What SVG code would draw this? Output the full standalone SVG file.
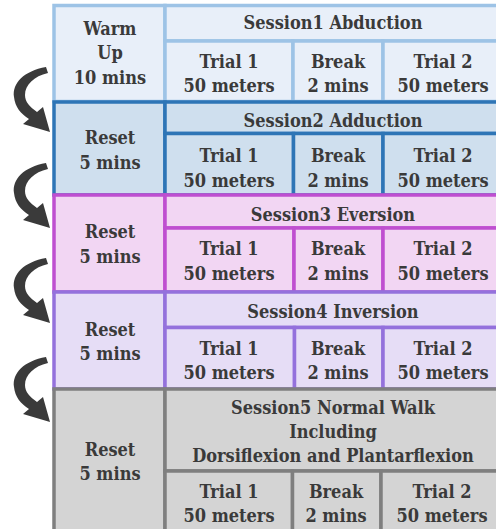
<svg xmlns="http://www.w3.org/2000/svg" width="496" height="529" viewBox="0 0 496 529">
<defs>
<style>
text{font-family:'DejaVu Serif',serif;font-stretch:condensed;font-weight:700;font-size:18px;fill:#3a3a3a;text-anchor:middle}
.c{stroke-width:3.5}
.r1{fill:#e8eff9;stroke:#9dc3e6}
.r2{fill:#cfdfee;stroke:#2e75b6}
.r3{fill:#f2d6f3;stroke:#bf4fd0}
.r4{fill:#e6ddf6;stroke:#9471dc}
.r5{fill:#d4d4d4;stroke:#7f7f7f}
.arr{fill:#3a3a3a}
</style>
<path id="arrow" d="M 46 0 C 24 4 12 16 14 30 C 15 40 21 47 29 52 L 23 57 L 50 65 L 43 40 L 37 45 C 30 40 25 35 25 28 C 25 18 34 9 48 6 Z"/>
</defs>
<rect width="496" height="529" fill="#ffffff"/>
<g id="row1">
<g id="warmup"><rect class="c r1" x="54" y="5.5" width="111" height="96"/><text x="110" y="35">Warm</text><text x="110" y="59">Up</text><text x="110" y="84">10 mins</text></g>
<g id="session1"><rect class="c r1" x="165" y="5.5" width="337" height="35.5"/><text x="333" y="29">Session1 Abduction</text></g>
<g id="s1-trial1"><rect class="c r1" x="165" y="41" width="128" height="60.5"/><text x="229" y="68">Trial 1</text><text x="229" y="92">50 meters</text></g>
<g id="s1-break"><rect class="c r1" x="293" y="41" width="90" height="60.5"/><text x="338" y="68">Break</text><text x="338" y="92">2 mins</text></g>
<g id="s1-trial2"><rect class="c r1" x="383" y="41" width="119" height="60.5"/><text x="443" y="68">Trial 2</text><text x="443" y="92">50 meters</text></g>
</g>

<g id="row2">
<g id="reset2"><rect class="c r2" x="54" y="102" width="111" height="93"/><text x="110" y="144">Reset</text><text x="110" y="169">5 mins</text></g>
<g id="session2"><rect class="c r2" x="165" y="102" width="337" height="31.5"/><text x="333" y="127">Session2 Adduction</text></g>
<g id="s2-trial1"><rect class="c r2" x="165" y="133.5" width="128.5" height="61.5"/><text x="229" y="162">Trial 1</text><text x="229" y="187">50 meters</text></g>
<g id="s2-break"><rect class="c r2" x="293.5" y="133.5" width="89.5" height="61.5"/><text x="338" y="162">Break</text><text x="338" y="187">2 mins</text></g>
<g id="s2-trial2"><rect class="c r2" x="383" y="133.5" width="119" height="61.5"/><text x="443" y="162">Trial 2</text><text x="443" y="187">50 meters</text></g>
</g>

<g id="row3">
<g id="reset3"><rect class="c r3" x="54" y="195" width="111" height="97"/><text x="110" y="238">Reset</text><text x="110" y="263">5 mins</text></g>
<g id="session3"><rect class="c r3" x="165" y="195" width="337" height="33"/><text x="333" y="221">Session3 Eversion</text></g>
<g id="s3-trial1"><rect class="c r3" x="165" y="228" width="129" height="64"/><text x="229" y="255">Trial 1</text><text x="229" y="280">50 meters</text></g>
<g id="s3-break"><rect class="c r3" x="294" y="228" width="89" height="64"/><text x="338" y="255">Break</text><text x="338" y="280">2 mins</text></g>
<g id="s3-trial2"><rect class="c r3" x="383" y="228" width="119" height="64"/><text x="443" y="255">Trial 2</text><text x="443" y="280">50 meters</text></g>
</g>

<g id="row4">
<g id="reset4"><rect class="c r4" x="54" y="292" width="111" height="97"/><text x="110" y="336">Reset</text><text x="110" y="360">5 mins</text></g>
<g id="session4"><rect class="c r4" x="165" y="292" width="337" height="35.5"/><text x="333" y="318">Session4 Inversion</text></g>
<g id="s4-trial1"><rect class="c r4" x="165" y="327.5" width="129.5" height="61.5"/><text x="229" y="355">Trial 1</text><text x="229" y="379">50 meters</text></g>
<g id="s4-break"><rect class="c r4" x="294.5" y="327.5" width="88.5" height="61.5"/><text x="338" y="355">Break</text><text x="338" y="379">2 mins</text></g>
<g id="s4-trial2"><rect class="c r4" x="383" y="327.5" width="119" height="61.5"/><text x="443" y="355">Trial 2</text><text x="443" y="379">50 meters</text></g>
</g>

<g id="row5">
<g id="reset5"><rect class="c r5" x="54" y="389" width="111" height="145"/><text x="110" y="456">Reset</text><text x="110" y="480">5 mins</text></g>
<g id="session5"><rect class="c r5" x="165" y="389" width="337" height="82"/><text x="333" y="414">Session5 Normal Walk</text><text x="333" y="438">Including</text><text x="333" y="462">Dorsiflexion and Plantarflexion</text></g>
<g id="s5-trial1"><rect class="c r5" x="165" y="471" width="127.5" height="63"/><text x="229" y="498">Trial 1</text><text x="229" y="522">50 meters</text></g>
<g id="s5-break"><rect class="c r5" x="292.5" y="471" width="88.5" height="63"/><text x="336" y="498">Break</text><text x="336" y="522">2 mins</text></g>
<g id="s5-trial2"><rect class="c r5" x="381" y="471" width="121" height="63"/><text x="442" y="498">Trial 2</text><text x="442" y="522">50 meters</text></g>
</g>
<g id="connectors" class="arr">
<use href="#arrow" x="0" y="67"/>
<use href="#arrow" x="0" y="163"/>
<use href="#arrow" x="0" y="258"/>
<use href="#arrow" x="0" y="357"/>
</g>
</svg>
